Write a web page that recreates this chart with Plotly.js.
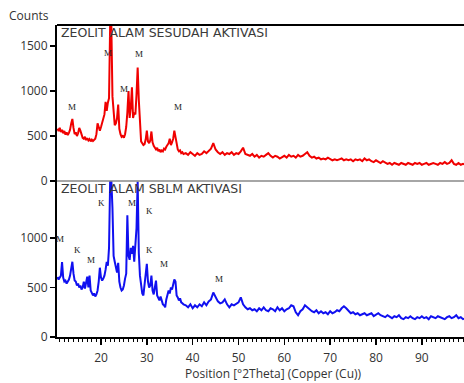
<!DOCTYPE html>
<html>
<head>
<meta charset="utf-8">
<script src="https://cdn.plot.ly/plotly-3.0.1.min.js"></script>
<style>html,body{margin:0;padding:0;background:#fff;}#chart{width:464px;height:383px;}</style>
</head>
<body>
<div id="chart"></div>
<script>
// 2Theta positions (degrees)
const twoTheta = [
10.5,10.75,11,11.25,11.5,11.75,12,12.25,12.5,12.75,
13,13.25,13.5,13.75,14,14.25,14.5,14.75,15,15.25,
15.5,15.75,16,16.25,16.5,16.75,17,17.25,17.5,17.75,
18,18.25,18.5,18.75,19,19.25,19.5,19.75,20,20.25,
20.5,20.75,21,21.25,21.5,21.75,22,22.25,22.5,22.75,
23,23.25,23.5,23.75,24,24.25,24.5,24.75,25,25.25,
25.5,25.75,26,26.25,26.5,26.75,27,27.25,27.5,27.75,
28,28.25,28.5,28.75,29,29.25,29.5,29.75,30,30.25,
30.5,30.75,31,31.25,31.5,31.75,32,32.25,32.5,32.75,
33,33.25,33.5,33.75,34,34.25,34.5,34.75,35,35.25,
35.5,35.75,36,36.25,36.5,36.75,37,37.25,37.5,37.75,
38,
38.5,39,39.5,40,40.5,41,41.5,42,42.5,43,
43.5,44,44.5,45,45.5,46,46.5,47,47.5,48,
48.5,49,49.5,50,50.5,51,51.5,52,52.5,53,
53.5,54,54.5,55,55.5,56,56.5,57,57.5,58,
58.5,59,59.5,60,60.5,61,61.5,62,62.5,63,
63.5,64,64.5,65,65.5,66,66.5,67,67.5,68,
68.5,69,69.5,70,70.5,71,71.5,72,72.5,73,
73.5,74,74.5,75,75.5,76,76.5,77,77.5,78,
78.5,79,79.5,80,80.5,81,81.5,82,82.5,83,
83.5,84,84.5,85,85.5,86,86.5,87,87.5,88,
88.5,89,89.5,90,90.5,91,91.5,92,92.5,93,
93.5,94,94.5,95,95.5,96,96.5,97,97.5,98,
98.5,99,99.5
];

// Counts: ZEOLIT ALAM SESUDAH AKTIVASI (after activation, red)
const countsSesudah = [
580,555,590,545,570,530,555,515,540,510,
535,570,640,690,590,520,540,500,530,590,
560,500,480,470,490,455,475,450,465,440,
460,445,455,470,520,640,600,560,600,650,
700,740,880,780,870,920,1750,1750,940,720,
620,640,700,850,580,520,490,500,480,520,
600,760,1000,700,820,1040,700,760,740,960,
1260,900,560,440,420,400,410,460,560,440,
420,450,550,430,390,360,350,370,330,350,
320,340,330,360,350,380,400,420,470,400,
430,470,560,480,380,350,330,340,310,320,
300,
310,290,320,300,280,310,290,300,330,310,
340,360,420,350,320,300,320,290,310,300,
320,290,310,300,330,370,300,290,280,300,
270,290,260,280,270,290,310,280,260,280,
270,250,270,280,260,290,270,280,260,290,
270,280,300,320,280,260,270,250,260,240,
250,240,260,240,230,240,230,240,250,230,
240,230,240,220,240,230,240,220,250,230,
240,220,210,230,210,200,220,200,190,200,
180,200,190,180,200,190,180,200,190,180,
200,190,200,180,190,200,180,190,200,190,
180,200,190,210,190,200,230,190,180,200,
180,190,180
];

// Counts: ZEOLIT ALAM SBLM AKTIVASI (before activation, blue)
const countsSblm = [
606,580,600,620,757,600,560,570,540,560,
580,620,700,760,640,570,560,520,540,500,
520,480,500,560,490,540,610,500,620,470,
450,420,440,410,430,470,560,700,600,570,
590,620,680,760,720,900,1590,1590,1300,820,
760,700,650,750,560,500,470,480,520,590,
640,1230,820,780,900,840,920,760,950,1100,
1570,850,620,520,440,420,510,650,740,560,
500,520,620,470,430,500,570,420,400,370,
410,360,330,320,300,380,430,470,440,500,
480,540,580,560,420,400,370,390,350,340,
330,
320,300,330,290,320,300,330,310,350,320,
360,380,450,400,360,340,350,380,330,300,
330,320,340,350,400,330,300,280,290,270,
280,260,290,270,300,270,260,290,280,260,
300,270,290,260,280,290,320,310,250,220,
260,280,320,300,270,260,250,270,240,260,
240,250,230,260,240,250,270,260,290,310,
290,260,240,250,230,240,220,230,240,220,
230,240,210,230,240,220,210,200,220,200,
190,210,200,220,190,180,200,190,210,190,
180,200,190,210,190,200,180,210,200,190,
210,200,190,180,200,210,190,200,220,190,
200,180,190
];

// Phase marks (M = mordenite, K = clinoptilolite)
const marksTopLabel = ['M','M','M','M','M'];
const marksTopX = [13.7, 21.5, 25.07, 28.2, 36.9];
const marksTopY = [826, 1419, 1019, 1407, 819];
const marksBotLabel = ['M','K','M','K','M','K','K','M','M'];
const marksBotX = [11.1, 14.96, 17.87, 20.05, 26.75, 30.52, 30.52, 33.8, 45.79];
const marksBotY = [990, 879, 778, 1354, 1357, 1273, 879, 737, 586];

const panelTop = 'ZEOLIT ALAM SESUDAH AKTIVASI';
const panelBot = 'ZEOLIT ALAM SBLM AKTIVASI';

const tickFont = {family: '"Open Sans", sans-serif', size: 12, color: '#333'};
const labelFont = {family: '"DejaVu Sans", sans-serif', size: 12.5, color: '#3a3a3a'};

const traces = [
  {x: twoTheta, y: countsSesudah, type: 'scatter', mode: 'lines', xaxis: 'x', yaxis: 'y2',
   line: {color: '#f00000', width: 2}, hoverinfo: 'skip'},
  {x: twoTheta, y: countsSblm, type: 'scatter', mode: 'lines', xaxis: 'x', yaxis: 'y',
   line: {color: '#1010f0', width: 2}, hoverinfo: 'skip'}
];

const annotations = [];
marksTopLabel.forEach((t, i) => annotations.push({
  text: t, x: marksTopX[i], y: marksTopY[i], xref: 'x', yref: 'y2', showarrow: false,
  font: {family: '"Liberation Serif", serif', size: 9, color: '#222'}
}));
marksBotLabel.forEach((t, i) => annotations.push({
  text: t, x: marksBotX[i], y: marksBotY[i], xref: 'x', yref: 'y', showarrow: false,
  font: {family: '"Liberation Serif", serif', size: 9, color: '#222'}
}));
annotations.push({text: panelTop, xref: 'paper', yref: 'paper', x: 0.005, y: 0.975,
  xanchor: 'left', yanchor: 'middle', showarrow: false, font: labelFont});
annotations.push({text: panelBot, xref: 'paper', yref: 'paper', x: 0.005, y: 0.476,
  xanchor: 'left', yanchor: 'middle', showarrow: false, font: labelFont});
annotations.push({text: 'Counts', xref: 'paper', yref: 'paper', x: -0.0676, y: 1.032,
  xanchor: 'center', yanchor: 'middle', showarrow: false,
  font: {family: '"Open Sans", sans-serif', size: 12, color: '#333'}});
annotations.push({text: 'Position [°2Theta] (Copper (Cu))', xref: 'paper', yref: 'paper', x: 0.532, y: -0.118,
  xanchor: 'center', yanchor: 'middle', showarrow: false,
  font: {family: '"Open Sans", sans-serif', size: 12, color: '#333'}});

const layout = {
  width: 464, height: 383,
  margin: {l: 57, r: 0, t: 25, b: 46, pad: 0},
  paper_bgcolor: '#fff', plot_bgcolor: '#fff',
  showlegend: false,
  xaxis: {range: [10.4, 99.2], domain: [0, 1], anchor: 'y', tick0: 0, dtick: 10,
    ticks: 'outside', ticklen: 6, tickwidth: 1.5, tickcolor: '#000', ticklabelstandoff: 3,
    minor: {dtick: 1, ticks: 'outside', ticklen: 3, tickcolor: '#000', tickwidth: 1},
    showline: true, linecolor: '#000', linewidth: 2, showgrid: false, zeroline: false,
    tickfont: tickFont},
  yaxis: {domain: [0, 0.5], range: [0, 1576], anchor: 'x', tickvals: [0, 500, 1000],
    ticks: 'outside', ticklen: 5, tickcolor: '#000', tickwidth: 1.5,
    showline: true, linecolor: '#000', linewidth: 2, showgrid: false, zeroline: false,
    tickfont: tickFont},
  yaxis2: {domain: [0.5, 1], range: [0, 1733], anchor: 'x', tickvals: [0, 500, 1000, 1500],
    ticks: 'outside', ticklen: 5, tickcolor: '#000', tickwidth: 1.5,
    showline: true, linecolor: '#000', linewidth: 2, showgrid: false, zeroline: false,
    tickfont: tickFont},
  shapes: [
    {type: 'line', xref: 'paper', yref: 'paper', x0: 0, x1: 1, y0: 1, y1: 1, line: {color: '#000', width: 2}},
    {type: 'line', xref: 'paper', yref: 'paper', x0: 0, x1: 1, y0: 0.5, y1: 0.5, line: {color: '#888', width: 1.5}}
  ],
  annotations: annotations
};

Plotly.newPlot('chart', traces, layout, {staticPlot: true, displayModeBar: false});
</script>
</body>
</html>
